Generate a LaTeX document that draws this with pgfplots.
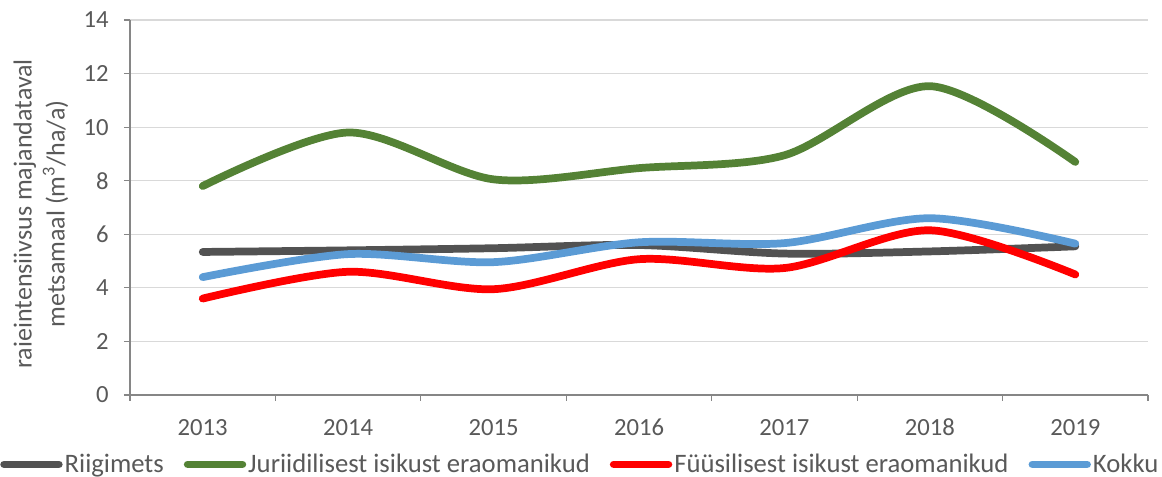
\documentclass[border=0pt]{standalone}
\usepackage{fontspec}
\setmainfont{Carlito}
\usepackage{pgfplots}
\pgfplotsset{compat=1.18}
\definecolor{cgray}{HTML}{525252}
\definecolor{cgreen}{HTML}{548235}
\definecolor{cred}{HTML}{FF0000}
\definecolor{cblue}{HTML}{5B9BD5}
\definecolor{axgray}{HTML}{868686}
\definecolor{gridgray}{HTML}{D9D9D9}
\definecolor{txtgray}{HTML}{595959}
\begin{document}
\begin{tikzpicture}
\begin{axis}[
  name=ax,
  scale only axis,
  width=763.5pt, height=281.25pt,
  xmin=0.5, xmax=7.5, ymin=0, ymax=14,
  xtick={1,2,3,4,5,6,7},
  xticklabels={2013,2014,2015,2016,2017,2018,2019},
  minor xtick={0.5,1.5,2.5,3.5,4.5,5.5,6.5,7.5},
  ytick={0,2,4,6,8,10,12,14},
  axis x line*=bottom, axis y line*=left,
  axis line style={axgray, line width=0.9pt},
  x axis line style={-}, y axis line style={-},
  tick align=outside,
  major x tick style={draw=none},
  minor x tick style={axgray, line width=0.9pt},
  minor tick length=4.5pt,
  major tick length=4.5pt,
  y tick style={axgray, line width=0.9pt},
  ymajorgrids, grid style={gridgray, line width=0.9pt},
  tick label style={font=\fontsize{18.5}{21}\selectfont, text=txtgray},
  xticklabel style={yshift=-10pt},
  yticklabel style={xshift=-8pt},
  /pgf/number format/assume math mode=true,
  ylabel={raieintensiivsus majandataval\\metsamaal (m\textsuperscript{3}/ha/a)},
  ylabel style={at={(axis description cs:-0.0874,0.483)}, anchor=center, align=center, font=\fontsize{19.5}{24.75}\selectfont, text=txtgray},
  legend columns=4,
  legend style={at={(axis description cs:-0.1277,-0.185)}, anchor=west, draw=none, fill=none,
    inner xsep=0pt, inner ysep=0pt,
    font=\fontsize{20}{22}\selectfont, text=txtgray,
    nodes={inner xsep=1.5pt, inner ysep=0pt},
    /tikz/every even column/.append style={column sep=13.5pt}},
  legend image code/.code={\draw[#1, line cap=round] (2pt,0pt) -- (43pt,0pt);},
  every axis plot/.append style={line width=5.8pt, line cap=round, smooth, tension=0.5},
]
\addplot[cgray] coordinates {(1,5.34) (2,5.4) (3,5.48) (4,5.6) (5,5.28) (6,5.36) (7,5.55)};
\addlegendentry{Riigimets}
\addplot[cgreen] coordinates {(1,7.8) (2,9.8) (3,8.05) (4,8.47) (5,8.95) (6,11.53) (7,8.7)};
\addlegendentry{Juriidilisest isikust eraomanikud}
\addplot[cred] coordinates {(1,3.6) (2,4.6) (3,3.95) (4,5.07) (5,4.74) (6,6.15) (7,4.5)};
\addlegendentry{Füüsilisest isikust eraomanikud}
\addplot[cblue] coordinates {(1,4.4) (2,5.26) (3,4.96) (4,5.7) (5,5.67) (6,6.6) (7,5.65)};
\addlegendentry{Kokku}
\end{axis}
\pgfresetboundingbox
\useasboundingbox ([shift={(-97.5pt,-61.5pt)}]ax.south west) rectangle ([shift={(10.5pt,15pt)}]ax.north east);
\end{tikzpicture}
\end{document}
